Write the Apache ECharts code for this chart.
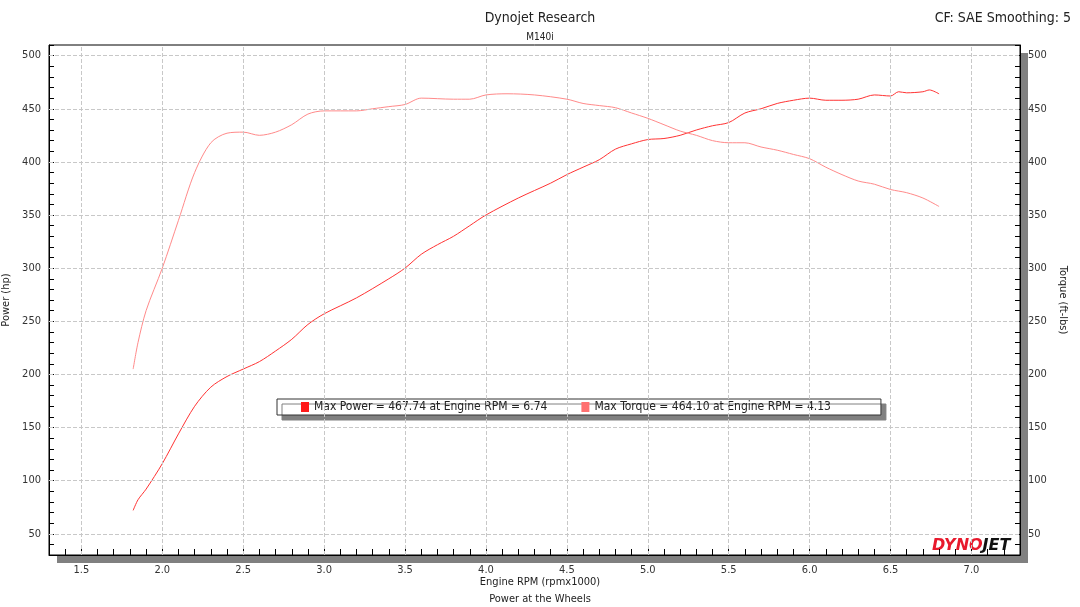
<!DOCTYPE html>
<html><head><meta charset="utf-8">
<script src="https://cdn.jsdelivr.net/npm/echarts@6/dist/echarts.min.js"></script>
<style>html,body{margin:0;padding:0;background:#fff}#c{width:1080px;height:607px}</style>
</head><body><div id="c"></div>
<script>
const powerRpm = [1.82,1.85,1.9,2.0,2.1,2.2,2.3,2.4,2.5,2.6,2.7,2.8,2.9,3.0,3.2,3.4,3.5,3.6,3.7,3.8,3.9,4.0,4.2,4.4,4.5,4.6,4.7,4.8,4.9,5.0,5.1,5.2,5.3,5.4,5.5,5.6,5.7,5.8,5.9,6.0,6.1,6.2,6.3,6.4,6.5,6.55,6.6,6.7,6.74,6.8];
const powerHp = [72,82,92,116,144,170,188,198,205,212,222,233,247,257,272,290,300,313,322,330,340,350,366,380,388,395,402,412,417,421,422,425,430,434,437,446,450,455,458,460,458,458,459,463,462,466,465,466,467.7,464];
const torqueRpm = [1.82,1.85,1.9,2.0,2.1,2.2,2.3,2.4,2.5,2.6,2.7,2.8,2.9,3.0,3.2,3.3,3.4,3.5,3.6,3.8,3.9,4.0,4.13,4.3,4.5,4.6,4.7,4.8,4.9,5.0,5.1,5.2,5.3,5.4,5.5,5.6,5.7,5.8,5.9,6.0,6.1,6.2,6.3,6.4,6.5,6.6,6.7,6.8];
const torqueFtlb = [205,230,260,300,345,390,418,427,428,425,428,435,445,448,448,450,452,454,460,459,459,463,464.1,463,459,455,453,451,446,441,435,429,425,420,418,418,414,411,407,403,395,388,382,379,374,371,366,358];
const xGrid = [1.5,2.0,2.5,3.0,3.5,4.0,4.5,5.0,5.5,6.0,6.5,7.0];
const yGrid = [50,100,150,200,250,300,350,400,450,500];
const powerName = 'Max Power = 467.74 at Engine RPM = 6.74';
const torqueName = 'Max Torque = 464.10 at Engine RPM = 4.13';

const F = '"DejaVu Sans Condensed","Liberation Sans Narrow",sans-serif';
const chart = echarts.init(document.getElementById('c'));
const gridLine = {type:'dashed',color:'#c8c8c8',width:1};
function yAxisCfg(pos){
  return {type:'value',position:pos,min:30,max:510,interval:10,
    axisLine:{show:true,lineStyle:{color:'#000'}},
    axisTick:{show:true,inside:true,length:5,lineStyle:{color:'#000'}},
    axisLabel:{fontFamily:F,fontSize:11,color:'#333',formatter:v=>(Math.round(v)%50===0?String(Math.round(v)):'')},
    splitLine:{show:false}};
}
chart.setOption({
  animation:false,
  grid:{left:49,right:60,top:45,bottom:52,outerBoundsMode:'none',containLabel:false,show:true,borderColor:'#000',borderWidth:1,backgroundColor:'#fff'},
  title:[
    {text:'Dynojet Research',left:'center',top:6,textStyle:{fontFamily:F,fontSize:14,fontWeight:'normal',color:'#222'}},
    {text:'M140i',left:'center',top:27,textStyle:{fontFamily:F,fontSize:10,fontWeight:'normal',color:'#222'}},
    {text:'CF: SAE Smoothing: 5',right:4,top:6,textStyle:{fontFamily:F,fontSize:14,fontWeight:'normal',color:'#222'}}
  ],
  legend:{left:277,top:399,width:598,itemGap:34,itemWidth:8,itemHeight:10,icon:'rect',
    backgroundColor:'#fff',borderColor:'#333',borderWidth:1,padding:[2,50,2,24],
    shadowColor:'#808080',shadowOffsetX:5,shadowOffsetY:5,shadowBlur:0,
    textStyle:{fontFamily:F,fontSize:12,color:'#222'},
    data:[powerName,torqueName]},
  xAxis:{type:'value',min:1.3,max:7.3,interval:0.1,
    axisLine:{show:true,onZero:false,lineStyle:{color:'#000'}},
    axisTick:{show:true,inside:true,length:6,lineStyle:{color:'#000'}},
    axisLabel:{fontFamily:F,fontSize:11,color:'#333',margin:10,formatter:v=>{const r=Math.round(v*10);return r%5===0?(r/10).toFixed(1):'';}},
    splitLine:{show:false}},
  yAxis:[Object.assign(yAxisCfg('left'),{name:'Power (hp)',nameLocation:'middle',nameGap:34,nameTextStyle:{fontFamily:F,fontSize:11,color:'#222'}}),
         Object.assign(yAxisCfg('right'),{name:'Torque (ft-lbs)',nameLocation:'middle',nameGap:36,nameRotate:-90,nameTextStyle:{fontFamily:F,fontSize:11,color:'#222'}})],
  graphic:[
    {type:'rect',z:-10,shape:{x:57,y:53,width:971,height:510},style:{fill:'#808080'}},
    {type:'text',left:'center',top:577,style:{text:'Engine RPM (rpmx1000)',font:'11px '+F,fill:'#222'}},
    {type:'text',left:'center',top:594,style:{text:'Power at the Wheels',font:'11px '+F,fill:'#222'}},
    {type:'text',left:932,top:538,style:{text:'{a|DYNO}{b|JET}',rich:{a:{fill:'#e8192c',font:'italic bold 16px "DejaVu Sans"'},b:{fill:'#111',font:'italic bold 16px "DejaVu Sans"'}}}}
  ],
  series:[
    {name:powerName,type:'line',yAxisIndex:0,showSymbol:false,smooth:0.3,color:'#ff1a1a',lineStyle:{width:1,color:'#ff3333'},
      data:powerRpm.map((r,i)=>[r,powerHp[i]]),
      markLine:{silent:true,symbol:'none',label:{show:false},lineStyle:gridLine,
        data:xGrid.map(v=>({xAxis:v})).concat(yGrid.map(v=>({yAxis:v})))}},
    {name:torqueName,type:'line',yAxisIndex:1,showSymbol:false,smooth:0.3,color:'#ff7070',lineStyle:{width:1,color:'#ff8a8a'},
      data:torqueRpm.map((r,i)=>[r,torqueFtlb[i]])}
  ]
});
</script></body></html>
